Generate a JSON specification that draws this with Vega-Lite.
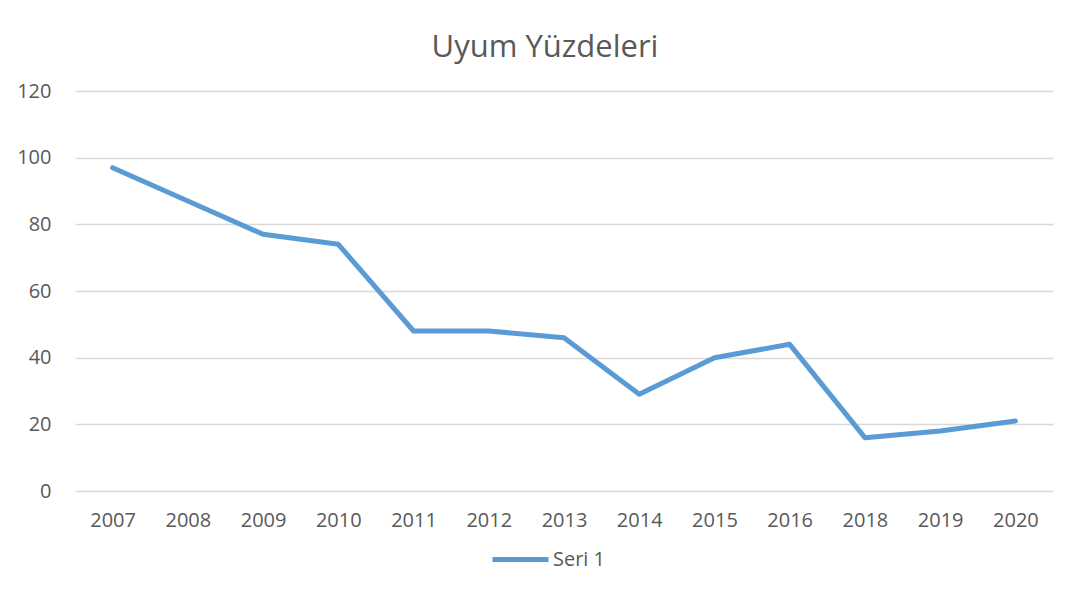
{
  "$schema": "https://vega.github.io/schema/vega-lite/v6.json",
  "autosize": "none",
  "width": 978,
  "height": 400,
  "padding": {"left": 75, "top": 91, "right": 19, "bottom": 105},
  "background": "white",
  "title": {
    "text": "Uyum Yüzdeleri",
    "anchor": "middle",
    "font": "Open Sans",
    "fontSize": 31,
    "fontWeight": "normal",
    "color": "#595959",
    "baseline": "alphabetic",
    "offset": -7,
    "dx": -19
  },
  "data": {
    "values": [
      {"yil": "2007", "deger": 97, "seri": "Seri 1"},
      {"yil": "2008", "deger": 87, "seri": "Seri 1"},
      {"yil": "2009", "deger": 77, "seri": "Seri 1"},
      {"yil": "2010", "deger": 74, "seri": "Seri 1"},
      {"yil": "2011", "deger": 48, "seri": "Seri 1"},
      {"yil": "2012", "deger": 48, "seri": "Seri 1"},
      {"yil": "2013", "deger": 46, "seri": "Seri 1"},
      {"yil": "2014", "deger": 29, "seri": "Seri 1"},
      {"yil": "2015", "deger": 40, "seri": "Seri 1"},
      {"yil": "2016", "deger": 44, "seri": "Seri 1"},
      {"yil": "2018", "deger": 16, "seri": "Seri 1"},
      {"yil": "2019", "deger": 18, "seri": "Seri 1"},
      {"yil": "2020", "deger": 21, "seri": "Seri 1"}
    ]
  },
  "mark": {"type": "line", "strokeWidth": 5, "strokeCap": "round", "strokeJoin": "round"},
  "encoding": {
    "x": {
      "field": "yil",
      "type": "ordinal",
      "scale": {"type": "point", "padding": 0.5},
      "axis": {
        "title": null,
        "labelAngle": 0,
        "ticks": false,
        "domain": false,
        "grid": false,
        "labelFont": "Open Sans",
        "labelFontSize": 20,
        "labelColor": "#595959",
        "labelPadding": 19
      }
    },
    "y": {
      "field": "deger",
      "type": "quantitative",
      "scale": {"domain": [0, 120], "nice": false},
      "axis": {
        "title": null,
        "values": [0, 20, 40, 60, 80, 100, 120],
        "ticks": false,
        "domain": false,
        "grid": true,
        "gridColor": "#D9D9D9",
        "gridWidth": 1.5,
        "labelFont": "Open Sans",
        "labelFontSize": 20,
        "labelColor": "#595959",
        "labelPadding": 24
      }
    },
    "color": {
      "field": "seri",
      "type": "nominal",
      "scale": {"range": ["#5B9BD5"]},
      "legend": {
        "title": null,
        "orient": "none",
        "legendX": 415,
        "legendY": 438,
        "symbolType": "stroke",
        "symbolSize": 3136,
        "symbolStrokeWidth": 5,
        "symbolOffset": 0,
        "labelFont": "Open Sans",
        "labelFontSize": 20,
        "labelColor": "#595959",
        "labelOffset": 2
      }
    }
  },
  "config": {"view": {"stroke": null}}
}
